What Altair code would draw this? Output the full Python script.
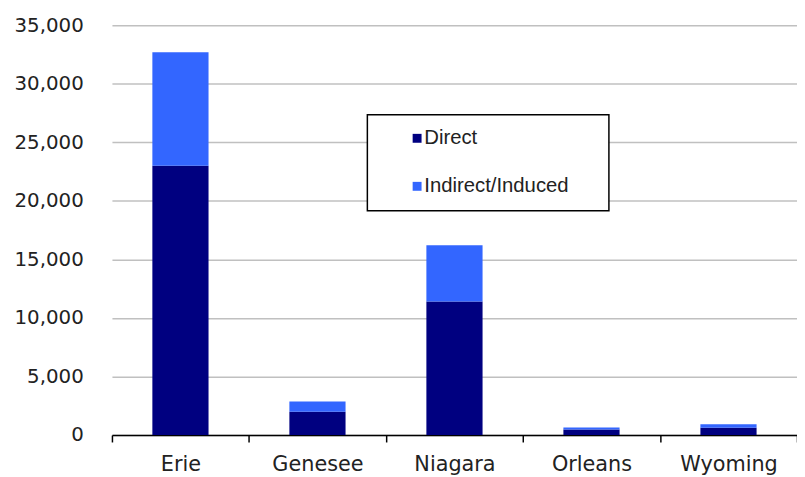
import altair as alt
import pandas as pd

counties = ["Erie", "Genesee", "Niagara", "Orleans", "Wyoming"]
direct = [23000, 2000, 11400, 480, 620]
indirect = [9700, 870, 4800, 170, 310]
series = ["Direct", "Indirect/Induced"]
colors = ["#000080", "#3366FF"]
y_ticks = [0, 5000, 10000, 15000, 20000, 25000, 30000, 35000]

rows = []
for i, c in enumerate(counties):
    rows.append({"county": c, "type": series[0], "jobs": direct[i], "ord": 0})
    rows.append({"county": c, "type": series[1], "jobs": indirect[i], "ord": 1})
df = pd.DataFrame(rows)

AXFONT = "DejaVu Sans"
LGFONT = "Liberation Sans"

chart = alt.Chart(df).mark_bar(width=alt.RelativeBandSize(0.41)).encode(
    x=alt.X(
        "county:N", sort=counties, title=None,
        scale=alt.Scale(paddingInner=0, paddingOuter=0),
        axis=alt.Axis(labelAngle=0, tickBand="extent", domainColor="#000000", domainWidth=1.5,
                      tickColor="#000000", tickSize=7, tickWidth=1.5, labelPadding=12,
                      labelFontSize=21, labelColor="#222222", labelFont=AXFONT, grid=False),
    ),
    y=alt.Y(
        "jobs:Q", stack="zero", title=None,
        scale=alt.Scale(domain=[0, 35000], nice=False),
        axis=alt.Axis(values=y_ticks, format=",.0f", domain=False, ticks=False, labelPadding=29,
                      labelFontSize=20, labelColor="#222222", labelFont=AXFONT,
                      gridColor="#c0c0c0", gridWidth=1.5),
    ),
    color=alt.Color(
        "type:N", scale=alt.Scale(domain=series, range=colors),
        legend=alt.Legend(title="\u00a0", titleOrient="right", titleFontSize=1, titlePadding=26.5,
                          orient="none", legendX=258, legendY=90.5, direction="vertical",
                          strokeColor="#000000", fillColor="#ffffff", padding=13.5,
                          symbolType="square", symbolSize=81, symbolStrokeWidth=0, symbolOpacity=1,
                          symbolOffset=26.5, labelOffset=alt.ExprRef(expr="-3"), rowPadding=27.5,
                          labelFontSize=20.5, labelColor="#222222", labelFont=LGFONT),
    ),
    order=alt.Order("ord:Q"),
).properties(
    width=692, height=414,
    autosize=alt.AutoSizeParams(type="none"),
    padding={"left": 105, "top": 15, "right": 0, "bottom": 40},
).configure_view(stroke=None).configure_legend(strokeWidth=1.5)

chart.save("out.html", embed_options={"renderer": "svg", "actions": False})
